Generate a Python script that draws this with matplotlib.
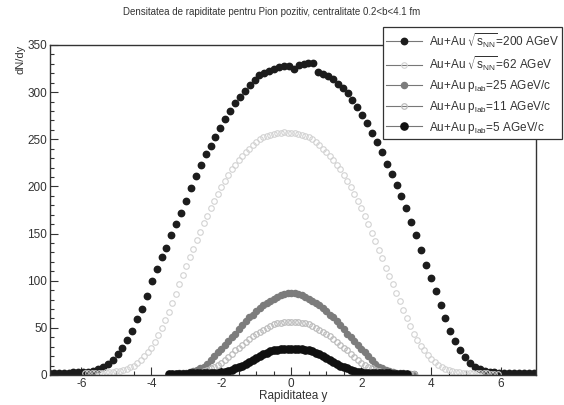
import numpy as np
import matplotlib
matplotlib.use("Agg")
import matplotlib.pyplot as plt
from matplotlib.lines import Line2D

plt.rcParams['font.family'] = ['Liberation Sans', 'DejaVu Sans']
plt.rcParams['mathtext.default'] = 'regular'
plt.rcParams['axes.unicode_minus'] = False

# Au+Au sqrt(sNN)=200 AGeV, bins of 0.14 in rapidity
y200 = np.round(np.arange(-6.93, 6.94, 0.14), 2)
dn200 = [2, 2, 2, 2, 2, 3, 3, 3, 3, 4,
         6, 8, 12, 16, 22, 29, 37, 47, 59, 70,
         84, 100, 112, 125, 135, 148, 160, 172, 185, 198,
         211, 223, 234, 243, 252, 262, 271, 280, 288, 295,
         301, 308, 313, 318, 320, 322, 325, 327, 328, 328,
         325, 329, 330, 331, 331, 321, 319, 317, 314, 309,
         304, 299, 292, 284, 276, 267, 257, 247, 237, 224,
         213, 202, 190, 177, 162, 148, 133, 117, 103, 89,
         74, 60, 47, 36, 27, 19, 13, 9, 6, 4,
         3, 3, 2, 2, 2, 2, 2, 2, 2, 2]

# Au+Au sqrt(sNN)=62 AGeV
y62 = np.round(np.arange(-5.9, 5.95, 0.1), 2)
dn62 = [2, 2, 2, 2, 2, 2, 3, 3, 3, 4,
        4, 5, 6, 8, 10, 13, 16, 20, 24, 29,
        35, 42, 50, 58, 67, 76, 86, 96, 106, 116,
        125, 134, 143, 152, 161, 169, 177, 185, 192, 199,
        206, 212, 218, 223, 228, 232, 236, 240, 244, 247,
        250, 252, 254, 255, 256, 257, 257, 258, 257, 257,
        257, 256, 255, 254, 252, 250, 247, 244, 240, 236,
        232, 228, 223, 218, 212, 206, 199, 192, 185, 177,
        169, 160, 151, 142, 133, 124, 114, 105, 96, 87,
        78, 69, 60, 52, 44, 37, 31, 26, 21, 17,
        14, 11, 8, 6, 5, 4, 3, 3, 2, 2,
        2, 2, 2, 2, 2, 2, 1, 1, 1]

# fixed target energies, bins of 0.1
ylab = np.round(np.arange(-3.5, 3.55, 0.1), 2)
dn25 = [1, 1, 1, 2, 2, 2, 3, 4, 5, 7,
        9, 12, 16, 20, 24, 28, 32, 36, 40, 44,
        49, 53, 57, 61, 64, 68, 71, 74, 76, 79,
        81, 83, 85, 86, 87, 87, 87, 86, 85, 83,
        81, 79, 76, 74, 71, 68, 64, 61, 57, 53,
        49, 44, 40, 36, 32, 28, 24, 20, 16, 12,
        9, 7, 5, 4, 3, 2, 2, 2, 1, 1, 1]
dn11 = [1, 1, 1, 1, 1, 1, 1, 2, 2, 3,
        4, 5, 7, 9, 11, 13, 16, 19, 22, 26,
        29, 32, 35, 38, 41, 43, 46, 48, 50, 52,
        54, 55, 55.5, 56, 56, 56, 56, 56, 55.5, 55,
        54, 52, 50, 48, 46, 43, 41, 38, 35, 32,
        29, 26, 22, 19, 16, 13, 11, 9, 7, 5,
        4, 3, 2, 2, 1, 1, 1, 1, 1, 1, 1]
dn5 = [1.5, 1.5, 1.5, 1.5, 1.5, 1.5, 2, 2, 2, 2,
       2, 2, 2, 2, 2.5, 3, 3.5, 4.5, 5.5, 7,
       8.5, 10, 12, 14, 16, 18, 20, 22, 23.5, 25,
       26, 27, 27.5, 28, 28, 28, 28, 28, 27.5, 27,
       26, 25, 23.5, 22, 20, 18, 16, 14, 12, 10,
       8.5, 7, 5.5, 4.5, 3.5, 3, 2.5, 2, 2, 2,
       2, 2, 2, 2, 1.5, 1.5, 1.5, 1.5, 1.5]
ylab5 = ylab[:len(dn5)]

labels = [r'Au+Au $\sqrt{s_{NN}}$=200 AGeV',
          r'Au+Au $\sqrt{s_{NN}}$=62 AGeV',
          r'Au+Au p$_{lab}$=25 AGeV/c',
          r'Au+Au p$_{lab}$=11 AGeV/c',
          r'Au+Au p$_{lab}$=5 AGeV/c']

fig = plt.figure(figsize=(5.64, 4.05), dpi=100)
ax = fig.add_axes([0.0887, 0.0741, 0.8617, 0.8148])

styles = [
    dict(marker='o', ms=4.6, mfc='#1c1c1c', mec='#1c1c1c'),
    dict(marker='o', ms=4.0, mfc='none', mec='#d2d2d2', mew=0.8),
    dict(marker='o', ms=4.4, mfc='#7c7c7c', mec='#7c7c7c'),
    dict(marker='o', ms=4.0, mfc='none', mec='#bdbdbd', mew=0.9),
    dict(marker='o', ms=5.2, mfc='#101010', mec='#101010'),
]
series = [(y200, dn200), (y62, dn62), (ylab, dn25), (ylab, dn11), (ylab5, dn5)]
for (xs, vs), st in zip(series, styles):
    ax.plot(xs, vs, ls='none', **st)

ax.set_xlim(-6.9, 7.0)
ax.set_ylim(0, 350)
ax.set_xticks(np.arange(-6, 7, 2))
ax.set_xticks(np.arange(-6.5, 7.0, 0.5), minor=True)
ax.set_yticks(np.arange(0, 351, 50))
ax.set_yticks(np.arange(0, 351, 10), minor=True)
ax.tick_params(which='both', direction='in', top=False, right=False,
               colors='#333333', labelsize=8.5, pad=2)
ax.tick_params(which='major', length=6, width=0.8)
ax.tick_params(which='minor', length=3, width=0.8)
for s in ax.spines.values():
    s.set_color('#333333')
    s.set_linewidth(1.0)

ax.set_xlabel('Rapiditatea y', fontsize=8.5, color='#333333', labelpad=0)
ax.set_ylabel('dN/dy', fontsize=8, color='#333333', loc='top')
ax.yaxis.set_label_coords(-0.05, 1.0)

fig.text(0.482, 0.970, 'Densitatea de rapiditate pentru Pion pozitiv, centralitate 0.2<b<4.1 fm',
         ha='center', va='center', fontsize=7, color='#333333')

handles = [Line2D([], [], color='#777777', lw=0.8, **st) for st in styles]
leg = fig.legend(handles, labels, loc='upper left', bbox_to_anchor=(0.679, 0.933),
                 fontsize=8.5, frameon=True, fancybox=False, edgecolor='#333333',
                 framealpha=1, handlelength=3.0, borderpad=0.3, labelspacing=0.4,
                 handletextpad=0.6, borderaxespad=0)
leg.get_frame().set_linewidth(0.9)
for t in leg.get_texts():
    t.set_color('#333333')

fig.savefig('out.png', dpi=100)
